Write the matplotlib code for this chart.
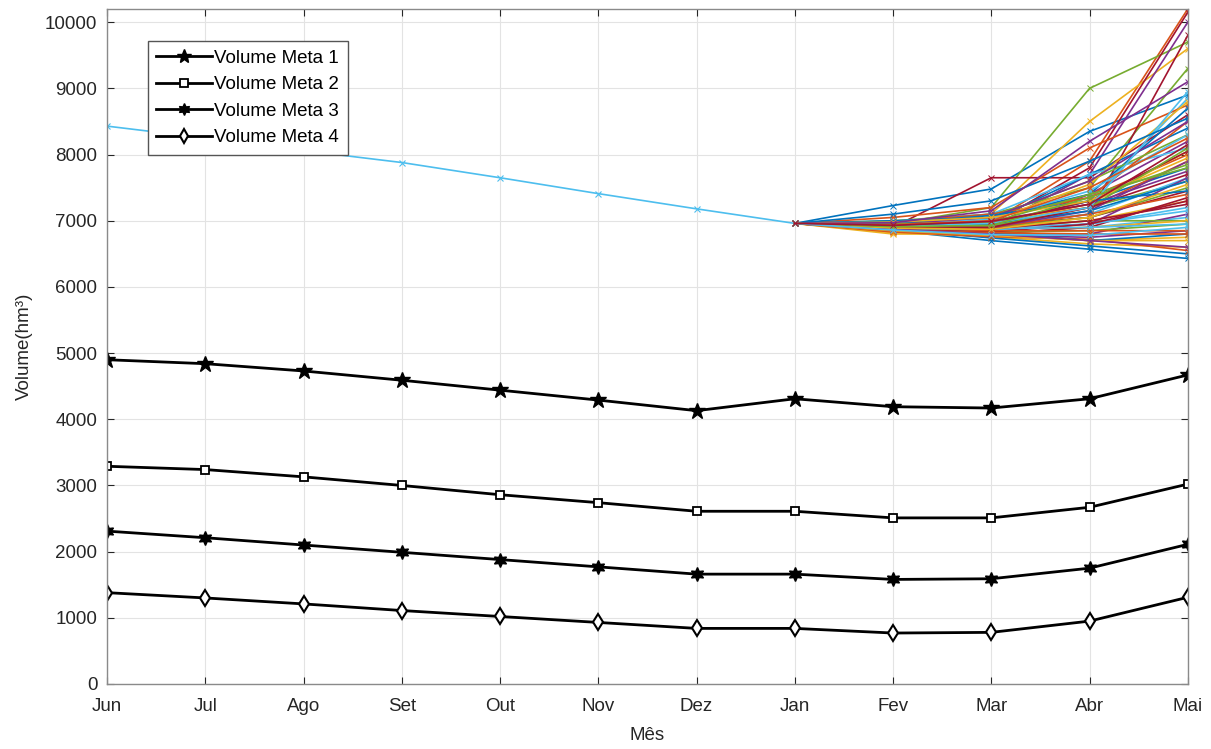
# Volume meta x cenarios

import matplotlib.pyplot as plt

plt.rcParams['font.family'] = ['Liberation Sans', 'DejaVu Sans']

meses = ["Jun", "Jul", "Ago", "Set", "Out", "Nov", "Dez", "Jan", "Fev", "Mar", "Abr", "Mai"]

# Metas de volume (hm3)
meta1 = [4900, 4840, 4730, 4590, 4440, 4290, 4130, 4310, 4190, 4170, 4310, 4670]
meta2 = [3290, 3240, 3130, 3000, 2860, 2740, 2610, 2610, 2510, 2510, 2670, 3020]
meta3 = [2310, 2210, 2100, 1990, 1880, 1770, 1660, 1660, 1580, 1590, 1750, 2110]
meta4 = [1380, 1300, 1210, 1110, 1020, 930, 840, 840, 770, 780, 950, 1310]

# Volume observado Jun-Jan
historico = [8430, 8250, 8060, 7880, 7650, 7410, 7180, 6960]

# Cenarios Fev-Mai (partem de Jan)
fev = [7230, 6900, 6950, 6880, 6950, 6900, 6900, 6850, 6980, 6820,
       6900, 7000, 6880, 6920, 6950, 7050, 6800, 6870, 6930, 6990,
       6880, 6900, 6940, 6910, 6850, 6900, 6950, 6900, 6870, 6980,
       6900, 6960, 6880, 6920, 6850, 7000, 6830, 6890, 6900, 6950,
       6870, 6930, 6900, 6920, 6940, 6910, 6860, 6960, 6870, 6940,
       6900, 6850, 6950, 6900, 6880, 6920, 6960, 6860, 6980, 6870,
       6950, 6910, 6900, 7100, 6940, 6890, 6970, 6910, 6860, 6930]
mar = [7480, 6980, 7100, 6850, 7200, 6950, 7650, 6700, 7050, 6760,
       6900, 7100, 6800, 6950, 7000, 7200, 6800, 6780, 6990, 7100,
       6900, 6950, 7000, 6900, 6800, 6880, 6900, 6920, 6740, 7100,
       6950, 7000, 6900, 6950, 6800, 7050, 6760, 6880, 6850, 7050,
       6850, 6950, 6820, 6900, 7000, 6900, 6830, 7020, 6830, 6950,
       6850, 6780, 7050, 6920, 6880, 6900, 7080, 6820, 7050, 6800,
       6980, 6960, 6880, 7300, 7000, 6870, 7150, 6930, 6790, 6990]
abr = [8350, 7900, 8500, 7400, 9000, 7300, 7650, 6570, 7350, 6650,
       7700, 7500, 6900, 7800, 7700, 8100, 6700, 6750, 7200, 7700,
       7100, 7300, 7200, 7000, 6800, 7000, 6950, 7050, 6620, 7350,
       7250, 7250, 7050, 7100, 6900, 7400, 6720, 6900, 6950, 7600,
       6950, 7300, 6700, 7100, 7550, 7150, 6850, 7450, 6950, 7150,
       6850, 6700, 7600, 7200, 6900, 7200, 7300, 6800, 7300, 6700,
       7400, 7200, 7000, 7900, 7500, 7050, 8200, 7350, 6780, 7250]
mai = [8900, 10200, 9600, 8200, 9700, 8850, 8600, 6430, 8000, 6600,
       10000, 9300, 7050, 10150, 8400, 8750, 6750, 6850, 7600, 8100,
       9800, 7800, 7900, 7300, 7100, 7000, 7200, 7450, 6500, 8500,
       8050, 7750, 7500, 7650, 7350, 8700, 6550, 7000, 7650, 8300,
       7150, 8050, 6800, 7400, 8800, 7900, 6950, 8300, 7300, 7600,
       6850, 6700, 8500, 8100, 6950, 7700, 7450, 6800, 7950, 6600,
       7800, 8950, 7250, 8550, 8250, 7550, 9100, 7850, 6900, 8150]

cores = ['#0072BD', '#D95319', '#EDB120', '#7E2F8E', '#77AC30', '#4DBEEE', '#A2142F']

fig = plt.figure(figsize=(12.11, 7.49), dpi=100)
ax = fig.add_axes([0.0884, 0.0868, 0.8924, 0.9012])

x = list(range(len(meses)))

# historico
ax.plot(x[:8], historico, color='#4DBEEE', lw=1.2, marker='x', ms=4, mew=0.8)

# cenarios
for i in range(len(fev)):
    ax.plot(x[7:], [historico[-1], fev[i], mar[i], abr[i], mai[i]],
            color=cores[i % 7], lw=1.2, marker='x', ms=4, mew=0.7)

# metas
ax.plot(x, meta1, color='k', lw=2, marker='*', ms=12, mfc='k', label="Volume Meta 1")
ax.plot(x, meta2, color='k', lw=2, marker='s', ms=6, mfc='white', mew=1.3, label="Volume Meta 2")
ax.plot(x, meta3, color='k', lw=2, marker=(6, 1, 0), ms=10, mfc='k', label="Volume Meta 3")
ax.plot(x, meta4, color='k', lw=2, marker='d', ms=8, mfc='white', mew=1.5, label="Volume Meta 4")

ax.set_xlim(0, 11)
ax.set_ylim(0, 10200)
ax.set_xticks(x)
ax.set_xticklabels(meses)
ax.set_yticks(range(0, 10001, 1000))
ax.tick_params(direction='in', top=True, right=True, labelsize=13.5,
               colors='#262626', length=5, width=0.8)
ax.tick_params(axis='x', pad=10)
ax.tick_params(axis='y', pad=7)
for s in ax.spines.values():
    s.set_color('#8a8a8a')
    s.set_linewidth(1)
ax.grid(True, color='#e3e3e3', lw=0.8)
ax.set_axisbelow(True)

ax.set_xlabel("Mês", fontsize=13.5, color='#262626', labelpad=9)
ax.set_ylabel("Volume(hm³)", fontsize=13.5, color='#262626', labelpad=9)

leg = ax.legend(loc='upper left', bbox_to_anchor=(0.029, 0.966), fontsize=13.5,
                fancybox=False, framealpha=1, edgecolor='#555555', markerscale=0.85,
                handlelength=3.0, borderpad=0.45, labelspacing=0.5, handletextpad=0.1)
leg.get_frame().set_linewidth(1)

plt.savefig("out.png", dpi=100)
